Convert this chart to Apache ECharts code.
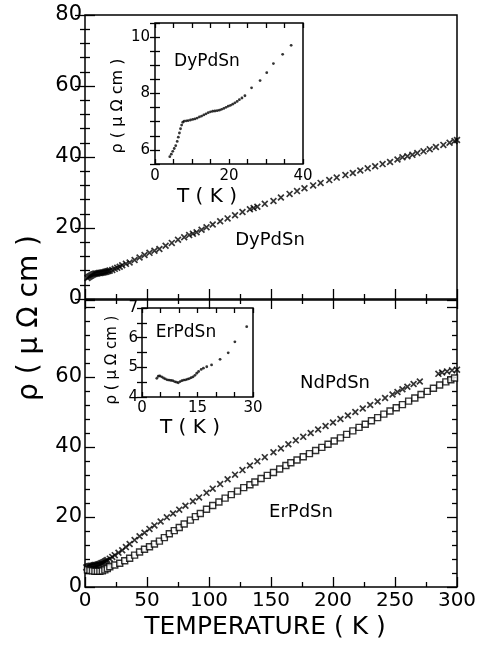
<!DOCTYPE html>
<html lang="en">
<head>
<meta charset="UTF-8">
<title>resistivity vs temperature</title>
<style>
  html, body { margin: 0; padding: 0; background: #fff; }
  #container { width: 480px; height: 645px; }
</style>
</head>
<body>
<div id="container"></div>
<script src="https://cdn.jsdelivr.net/npm/echarts@6/dist/echarts.min.js"></script>
<script>
// top panel: DyPdSn
var dyT = [2, 3, 4, 5, 6, 7, 8, 9, 10, 11, 12, 13, 14, 15, 16, 17, 18, 19, 20, 22, 24, 26, 28, 30, 33, 36, 40, 44, 48, 52, 56, 60, 65, 70, 75, 80, 84, 87, 90, 94, 98, 103, 109, 115, 121, 127, 133, 136, 139, 145, 152, 158, 165, 171, 177, 184, 190, 197, 203, 210, 216, 222, 228, 234, 240, 246, 252, 256, 260, 264, 268, 273, 278, 283, 289, 294, 298, 300];
var dyRho = [5.9, 6.2, 6.4, 6.6, 6.8, 7.0, 7.1, 7.2, 7.2, 7.3, 7.3, 7.4, 7.5, 7.5, 7.6, 7.7, 7.8, 7.9, 8.0, 8.2, 8.5, 8.8, 9.1, 9.5, 9.9, 10.3, 11.0, 11.7, 12.4, 13.0, 13.6, 14.1, 15.0, 15.8, 16.7, 17.4, 18.0, 18.4, 18.8, 19.5, 20.2, 21.0, 21.9, 22.7, 23.6, 24.5, 25.3, 25.6, 26.0, 26.8, 27.6, 28.6, 29.6, 30.4, 31.2, 32.0, 32.7, 33.5, 34.2, 34.9, 35.5, 36.2, 36.8, 37.4, 38.0, 38.6, 39.3, 39.9, 40.2, 40.6, 41.1, 41.6, 42.2, 42.8, 43.4, 44.0, 44.5, 44.8];

// bottom panel: NdPdSn (crosses)
var ndT = [1, 2, 3, 4, 5, 6, 7, 8, 9, 10, 11, 12, 13, 14, 15, 16, 17, 18, 20, 22, 24, 27, 30, 33, 36, 40, 44, 48, 52, 56, 61, 66, 71, 76, 81, 87, 92, 98, 103, 109, 115, 121, 127, 133, 139, 145, 152, 158, 164, 170, 176, 182, 188, 194, 200, 206, 212, 218, 224, 230, 236, 242, 248, 252, 256, 260, 265, 270, 285, 288, 292, 296, 300];
var ndRho = [5.6, 5.8, 5.9, 6.0, 6.1, 6.1, 6.2, 6.3, 6.3, 6.4, 6.5, 6.6, 6.8, 6.9, 7.1, 7.3, 7.5, 7.7, 8.1, 8.6, 9.1, 9.8, 10.5, 11.4, 12.3, 13.4, 14.5, 15.5, 16.6, 17.6, 18.7, 19.9, 21.0, 22.1, 23.2, 24.5, 25.6, 26.9, 28.1, 29.4, 30.8, 32.1, 33.4, 34.7, 35.9, 37.1, 38.5, 39.6, 40.8, 41.9, 42.9, 44.0, 45.0, 46.0, 47.0, 48.0, 49.0, 50.0, 51.0, 52.0, 53.0, 54.0, 55.0, 55.7, 56.5, 57.2, 58.0, 58.7, 60.9, 61.3, 61.6, 61.9, 62.1];

// bottom panel: ErPdSn (squares)
var erT = [2, 4, 6, 8, 10, 12, 14, 16, 18, 20, 24, 28, 32, 36, 40, 44, 48, 52, 56, 60, 64, 68, 72, 76, 80, 85, 89, 93, 98, 103, 108, 113, 118, 123, 128, 133, 137, 142, 147, 152, 157, 162, 166, 171, 176, 181, 186, 191, 196, 201, 206, 211, 216, 221, 226, 231, 236, 241, 246, 251, 256, 261, 266, 271, 276, 281, 286, 291, 295, 298];
var erRho = [4.9, 4.7, 4.6, 4.5, 4.5, 4.5, 4.6, 4.9, 5.3, 5.8, 6.3, 6.8, 7.5, 8.2, 9.1, 10.0, 10.8, 11.5, 12.3, 13.1, 14.1, 15.2, 16.1, 17.0, 18.0, 19.1, 20.1, 21.0, 22.2, 23.3, 24.3, 25.4, 26.4, 27.4, 28.4, 29.2, 30.0, 31.0, 31.9, 32.7, 33.7, 34.7, 35.5, 36.3, 37.2, 38.1, 39.0, 39.9, 40.8, 41.7, 42.6, 43.6, 44.6, 45.6, 46.5, 47.5, 48.4, 49.4, 50.3, 51.2, 52.1, 53.1, 54.0, 55.0, 55.9, 56.8, 57.7, 58.6, 59.2, 59.7];

// inset, DyPdSn low T
var dyInT = [4.0, 4.4, 4.8, 5.2, 5.6, 6.0, 6.3, 6.6, 6.9, 7.2, 7.5, 7.9, 8.5, 9.0, 9.6, 10.2, 10.8, 11.4, 12.0, 12.6, 13.2, 13.8, 14.4, 15.0, 15.6, 16.2, 16.8, 17.4, 18.0, 18.6, 19.2, 19.8, 20.4, 21.0, 21.6, 22.2, 22.8, 23.5, 24.3, 26.1, 28.4, 30.2, 32.0, 34.5, 36.8];
var dyInRho = [5.76, 5.85, 5.95, 6.05, 6.15, 6.3, 6.45, 6.6, 6.75, 6.88, 6.98, 7.02, 7.03, 7.04, 7.06, 7.08, 7.1, 7.13, 7.17, 7.2, 7.24, 7.28, 7.32, 7.35, 7.37, 7.38, 7.39, 7.41, 7.44, 7.47, 7.51, 7.55, 7.58, 7.62, 7.67, 7.72, 7.78, 7.84, 7.92, 8.2, 8.46, 8.74, 9.06, 9.39, 9.71];

// inset, ErPdSn low T
var erInT = [4.0, 4.4, 4.8, 5.3, 5.8, 6.3, 6.8, 7.3, 7.8, 8.3, 8.8, 9.3, 9.8, 10.3, 10.8, 11.3, 11.8, 12.3, 12.8, 13.3, 13.8, 14.3, 14.8, 15.3, 16.0, 16.6, 17.5, 18.8, 21.1, 23.3, 25.1, 28.3];
var erInRho = [4.63, 4.7, 4.71, 4.68, 4.64, 4.61, 4.58, 4.57, 4.56, 4.55, 4.52, 4.5, 4.48, 4.52, 4.55, 4.57, 4.58, 4.6, 4.62, 4.65, 4.68, 4.73, 4.8, 4.86, 4.93, 4.97, 5.02, 5.08, 5.27, 5.49, 5.86, 6.37];

function pairs(xs, ys) {
    return xs.map(function (x, i) { return [x, ys[i]]; });
}

var FONT = 'DejaVu Sans';
var crossSym = 'path://M0,1.7L1.7,0L10,8.3L8.3,10Z M8.3,0L10,1.7L1.7,10L0,8.3Z';
var noLine = { show: false };
var noSplit = { show: false };

// one axis side; ticks point inward like the printed figure
function axis(grid, pos, min, max, interval, tickLen, minor, label) {
    return {
        type: 'value', gridIndex: grid, position: pos,
        min: min, max: max, interval: interval,
        axisLine: noLine, splitLine: noSplit,
        axisTick: { show: true, inside: true, length: tickLen, lineStyle: { color: '#000', width: 1.3 } },
        minorTick: minor ? { show: true, splitNumber: minor, length: tickLen / 2, lineStyle: { color: '#000', width: 1.3 } } : { show: false },
        axisLabel: label ? label : { show: false }
    };
}

function lab(size, margin, fmt) {
    return {
        show: true, color: '#000', fontFamily: FONT, fontSize: size, margin: margin,
        showMinLabel: true, showMaxLabel: true, formatter: fmt
    };
}

var frame = { show: true, borderColor: '#000', borderWidth: 1.5, backgroundColor: 'transparent' };

var chart = echarts.init(document.getElementById('container'), null, { renderer: 'canvas' });

var options = {
    animation: false,
    backgroundColor: '#fff',
    grid: [
        Object.assign({ left: 85, top: 15, width: 372, height: 284, outerBoundsMode: 'none' }, frame),
        Object.assign({ left: 85, top: 300, width: 372, height: 287, outerBoundsMode: 'none' }, frame),
        Object.assign({ left: 155, top: 23, width: 148, height: 141, outerBoundsMode: 'none' }, frame),
        Object.assign({ left: 142, top: 308, width: 111, height: 89, outerBoundsMode: 'none' }, frame)
    ],
    xAxis: [
        axis(0, 'bottom', 0, 300, 50, 10, 2, null),
        axis(0, 'top', 0, 300, 50, 10, 2, null),
        axis(1, 'bottom', 0, 300, 50, 10, 2, lab(20, 4, function (v) { return v; })),
        axis(2, 'bottom', 0, 40, 5, 5, 0, lab(15, 5, function (v) { return v % 20 === 0 ? v : ''; })),
        axis(2, 'top', 0, 40, 5, 5, 0, null),
        axis(3, 'bottom', 0, 30, 5, 5, 0, lab(15, 4, function (v) { return v % 15 === 0 ? v : ''; })),
        axis(3, 'top', 0, 30, 5, 5, 0, null)
    ],
    yAxis: [
        axis(0, 'left', 0, 80, 20, 10, 5, lab(21, 3, function (v) { return v; })),
        axis(0, 'right', 0, 80, 20, 10, 5, null),
        axis(1, 'left', 0, 82, 20, 10, 5, lab(21, 3, function (v) { return v <= 60 && v % 20 === 0 ? v : ''; })),
        axis(1, 'right', 0, 82, 20, 10, 5, null),
        axis(2, 'left', 5.5, 10.5, 0.5, 5, 0, lab(15, 5, function (v) { return v % 2 === 0 ? v : ''; })),
        axis(2, 'right', 5.5, 10.5, 0.5, 5, 0, null),
        axis(3, 'left', 4, 7, 0.5, 5, 0, lab(15, 4, function (v) { return v % 1 === 0 ? v : ''; })),
        axis(3, 'right', 4, 7, 0.5, 5, 0, null)
    ],
    series: [
        {
            name: 'DyPdSn', type: 'scatter', xAxisIndex: 0, yAxisIndex: 0,
            data: pairs(dyT, dyRho), symbol: crossSym, symbolSize: 7,
            itemStyle: { color: '#000' }
        },
        {
            name: 'NdPdSn', type: 'scatter', xAxisIndex: 2, yAxisIndex: 2,
            data: pairs(ndT, ndRho), symbol: crossSym, symbolSize: 7,
            itemStyle: { color: '#000' }
        },
        {
            name: 'ErPdSn', type: 'scatter', xAxisIndex: 2, yAxisIndex: 2,
            data: pairs(erT, erRho), symbol: 'rect', symbolSize: 6,
            itemStyle: { color: '#fff', borderColor: '#000', borderWidth: 1.4 }
        },
        {
            name: 'DyPdSn inset', type: 'scatter', xAxisIndex: 3, yAxisIndex: 4,
            data: pairs(dyInT, dyInRho), symbol: 'circle', symbolSize: 2.8,
            itemStyle: { color: '#000' }
        },
        {
            name: 'ErPdSn inset', type: 'scatter', xAxisIndex: 5, yAxisIndex: 6,
            data: pairs(erInT, erInRho), symbol: 'circle', symbolSize: 2.8,
            itemStyle: { color: '#000' }
        }
    ],
    graphic: [
        { type: 'text', x: 30, y: 318, rotation: Math.PI / 2,
          style: { text: 'ρ ( μ Ω cm )', font: '28px "DejaVu Sans"', fill: '#000', textAlign: 'center', textVerticalAlign: 'middle' } },
        { type: 'text', x: 265, y: 627,
          style: { text: 'TEMPERATURE ( K )', font: '25px "DejaVu Sans"', fill: '#000', textAlign: 'center', textVerticalAlign: 'middle' } },
        { type: 'text', x: 118, y: 106, rotation: Math.PI / 2,
          style: { text: 'ρ ( μ Ω cm )', font: '16px "DejaVu Sans"', fill: '#000', textAlign: 'center', textVerticalAlign: 'middle' } },
        { type: 'text', x: 112, y: 360, rotation: Math.PI / 2,
          style: { text: 'ρ ( μ Ω cm )', font: '15px "DejaVu Sans"', fill: '#000', textAlign: 'center', textVerticalAlign: 'middle' } },
        { type: 'text', x: 207, y: 197,
          style: { text: 'T ( K )', font: '20px "DejaVu Sans"', fill: '#000', textAlign: 'center', textVerticalAlign: 'middle' } },
        { type: 'text', x: 190, y: 428,
          style: { text: 'T ( K )', font: '20px "DejaVu Sans"', fill: '#000', textAlign: 'center', textVerticalAlign: 'middle' } },
        { type: 'text', x: 207, y: 62,
          style: { text: 'DyPdSn', font: '17px "DejaVu Sans"', fill: '#000', textAlign: 'center', textVerticalAlign: 'middle' } },
        { type: 'text', x: 186, y: 333,
          style: { text: 'ErPdSn', font: '17px "DejaVu Sans"', fill: '#000', textAlign: 'center', textVerticalAlign: 'middle' } },
        { type: 'text', x: 270, y: 240,
          style: { text: 'DyPdSn', font: '18px "DejaVu Sans"', fill: '#000', textAlign: 'center', textVerticalAlign: 'middle' } },
        { type: 'text', x: 335, y: 383,
          style: { text: 'NdPdSn', font: '18px "DejaVu Sans"', fill: '#000', textAlign: 'center', textVerticalAlign: 'middle' } },
        { type: 'text', x: 301, y: 512,
          style: { text: 'ErPdSn', font: '18px "DejaVu Sans"', fill: '#000', textAlign: 'center', textVerticalAlign: 'middle' } }
    ]
};

chart.setOption(options);
</script>
</body>
</html>
